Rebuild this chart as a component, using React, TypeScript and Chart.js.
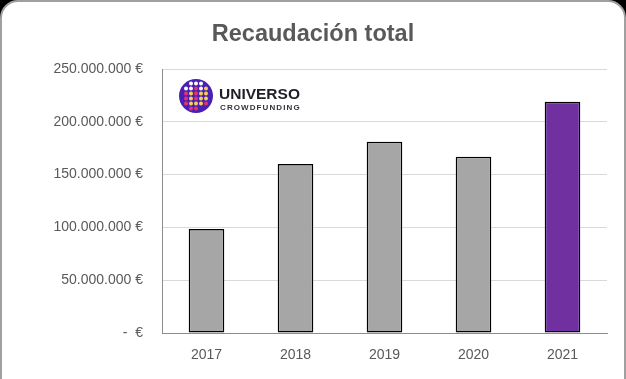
import React, { useEffect, useRef } from "react";
import { Chart, registerables } from "chart.js";

Chart.register(...registerables);

const categories = ["2017", "2018", "2019", "2020", "2021"];
const recaudacion = [98500000, 160000000, 181000000, 167000000, 219000000];
const barColors = ["#a6a6a6", "#a6a6a6", "#a6a6a6", "#a6a6a6", "#7030a0"];
const yTicks = [0, 50000000, 100000000, 150000000, 200000000, 250000000];
const titleText = "Recaudación total";

const fmt = (v: number) =>
  v === 0 ? "-  €" : String(Math.round(v)).replace(/\B(?=(\d{3})+(?!\d))/g, ".") + " €";

const logoDots = [
  ["", "w", "w", "w", ""],
  ["w", "w", "p", "w", "y"],
  ["p", "y", "p", "y", "y"],
  ["p", "y", "p", "y", "y"],
  ["p", "y", "y", "y", "p"],
  ["", "p", "p", "", ""],
];

const overlayPlugin = {
  id: "overlay",
  afterDraw(chart: any) {
    const ctx = chart.ctx;
    const ca = chart.chartArea;
    ctx.save();
    // title
    ctx.fillStyle = "#595959";
    ctx.font = "bold 23.5px 'Liberation Sans', Arial, sans-serif";
    ctx.textAlign = "center";
    ctx.textBaseline = "alphabetic";
    ctx.fillText(titleText, chart.width / 2, 41);
    // logo
    const cx = ca.left + 34;
    const cy = ca.top + 27;
    ctx.beginPath();
    ctx.arc(cx, cy, 17, 0, Math.PI * 2);
    ctx.fillStyle = "#4a20b3";
    ctx.fill();
    const colMap: any = { w: "#ffffff", p: "#e5336c", y: "#f5cf5a" };
    logoDots.forEach((row, r) => {
      row.forEach((c, k) => {
        if (!c) return;
        ctx.beginPath();
        ctx.arc(cx - 10 + k * 5, cy - 12.5 + r * 5, 2, 0, Math.PI * 2);
        ctx.fillStyle = colMap[c];
        ctx.fill();
      });
    });
    ctx.fillStyle = "#1e1e2a";
    ctx.textAlign = "left";
    ctx.font = "bold 15.5px 'Liberation Sans', Arial, sans-serif";
    ctx.fillText("UNIVERSO", cx + 23, cy + 3);
    ctx.font = "bold 8px 'Liberation Sans', Arial, sans-serif";
    (ctx as any).letterSpacing = "1.1px";
    ctx.fillStyle = "#333340";
    ctx.fillText("CROWDFUNDING", cx + 24, cy + 14);
    ctx.restore();
  },
};

export default function App() {
  const ref = useRef<HTMLCanvasElement>(null);
  useEffect(() => {
    document.body.style.margin = "0";
    document.body.style.background = "#000";
    document.body.style.overflow = "hidden";
    const chart = new Chart(ref.current!, {
      type: "bar",
      data: {
        labels: categories,
        datasets: [
          {
            data: recaudacion,
            backgroundColor: barColors,
            borderColor: "#000000",
            borderWidth: 1.5,
            borderSkipped: false,
            barPercentage: 0.4,
            categoryPercentage: 1,
          },
        ],
      },
      options: {
        animation: false,
        responsive: false,
        maintainAspectRatio: false,
        layout: { padding: { left: 0, right: 19, top: 69, bottom: 0 } },
        plugins: {
          legend: { display: false },
          title: { display: false },
          tooltip: { enabled: false },
        },
        scales: {
          x: {
            grid: { display: false, drawTicks: false },
            border: { display: true, color: "#8c8c8c", width: 1 },
            ticks: {
              color: "#595959",
              padding: 14,
              font: { family: "'Liberation Sans', Arial, sans-serif", size: 14 },
            },
            afterFit(scale: any) {
              scale.height = 46;
            },
          },
          y: {
            min: 0,
            max: 250000000,
            afterBuildTicks(scale: any) {
              scale.ticks = yTicks.map((v) => ({ value: v }));
            },
            grid: { color: "#d9d9d9", drawTicks: false, lineWidth: 1 },
            border: { display: true, color: "#8c8c8c", width: 1 },
            ticks: {
              color: "#595959",
              padding: 19,
              font: { family: "'Liberation Sans', Arial, sans-serif", size: 14 },
              callback: (v: any) => fmt(Number(v)),
            },
            afterFit(scale: any) {
              scale.width = 162;
            },
          },
        },
      },
      plugins: [overlayPlugin],
    });
    return () => chart.destroy();
  }, []);
  return (
    <div style={{ position: "relative", width: 626, height: 379, overflow: "hidden", background: "#000" }}>
      <div
        style={{
          position: "absolute",
          left: 0,
          top: 0,
          width: 626,
          height: 420,
          boxSizing: "border-box",
          border: "2px solid #a0a0a0",
          borderRadius: 18,
          background: "#fff",
        }}
      />
      <canvas
        ref={ref}
        width={626}
        height={379}
        style={{ position: "absolute", left: 0, top: 0, width: 626, height: 379 }}
      />
    </div>
  );
}
